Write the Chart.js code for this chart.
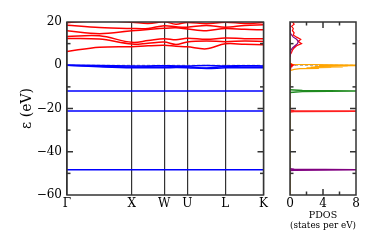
<!DOCTYPE html>
<html>
<head>
<meta charset="utf-8">
<script src="https://cdn.jsdelivr.net/npm/chart.js@4"></script>
<style>
  body { margin: 0; background: #fff; }
  #wrap { position: relative; width: 377px; height: 251px; }
  canvas { position: absolute; top: 0; }
  #bands { left: 0; }
  #pdos { left: 270px; }
</style>
</head>
<body>
<div id="wrap">
  <canvas id="bands" width="270" height="251"></canvas>
  <canvas id="pdos" width="107" height="251"></canvas>
</div>
<script>
// k-path labels and where they sit along the path
const kLabels = ['Γ', 'X', 'W', 'U', 'L', 'K'];
const kTicks = [0, 1, 1.5, 1.854, 2.44, 3.03];
// sample points along the path where the bands were read
const kPath = [0, 0.5, 1, 1.25, 1.5, 1.68, 1.854, 2.15, 2.44, 2.74, 3.03];

// conduction bands (eV)
const cond1 = [6.4, 8.3, 8.6, 9.0, 9.2, 8.8, 8.5, 7.6, 9.9, 9.7, 9.5];
const cond2 = [12.4, 12.1, 9.8, 10.2, 10.7, 9.6, 10.8, 11.2, 10.9, 11.2, 11.0];
const cond3 = [13.3, 13.6, 10.6, 11.4, 12.3, 11.8, 12.5, 12.0, 12.6, 12.3, 12.3];
const cond4 = [15.9, 14.6, 15.9, 16.5, 17.1, 17.3, 16.8, 16.0, 17.0, 16.6, 16.4];
const cond5 = [18.5, 17.4, 17.0, 17.0, 18.3, 17.8, 17.6, 18.4, 17.6, 18.4, 18.7];
const cond6 = [19.7, 20.6, 19.9, 19.3, 20.2, 19.0, 19.8, 19.2, 19.9, 19.3, 19.8];
const cond7 = [21.0, 21.5, 20.4, 20.5, 21.0, 20.8, 20.7, 20.8, 20.5, 20.9, 20.6];

// valence bands (eV)
const val1 = [0, -0.1, -0.3, -0.3, -0.2, -0.3, -0.3, -0.1, -0.3, -0.2, -0.3];
const val2 = [0, -0.4, -0.8, -0.7, -0.8, -0.6, -0.7, -1.3, -0.6, -0.8, -0.8];
const val3 = [0, -0.7, -1.2, -1.1, -1.2, -1.0, -1.1, -1.5, -1.2, -1.2, -1.1];
const val4 = [-11.9, -11.9, -11.9, -11.9, -11.9, -11.9, -11.9, -11.9, -11.9, -11.9, -11.9];
const val5 = [-21.2, -21.2, -21.2, -21.2, -21.2, -21.2, -21.2, -21.2, -21.2, -21.2, -21.2];
const val6 = [-48.3, -48.3, -48.3, -48.3, -48.3, -48.3, -48.3, -48.3, -48.3, -48.3, -48.3];

// PDOS, upper region
const upE = [21, 20, 19, 18, 17, 16, 15, 14, 13, 12, 11, 10, 9, 8, 7, 6, 5, 4];
const upRed = [0.4, 0.3, 0.5, 0.2, 0.4, 0.3, 0.5, 0.4, 0.8, 1.3, 1.0, 1.4, 0.8, 0.5, 0.3, 0.2, 0.05, 0];
const upPurple = [0, 0, 0, 0, 0, 0.05, 0.1, 0.2, 0.4, 0.8, 1.0, 0.9, 0.6, 0.3, 0.1, 0, 0, 0];
// PDOS near the Fermi level
const vbE = [1.0, 0.4, 0.1, 0, -0.15, -0.3, -0.45, -0.6, -0.75, -0.9, -1.05, -1.2, -1.4, -1.6, -1.9, -2.5];
const vbOrange = [0, 0.3, 8.5, 4.0, 8.2, 3.5, 7.0, 3.0, 6.4, 2.5, 5.0, 2.0, 3.5, 1.2, 0.5, 0];
const vbRed = [0, 0.1, 0.4, 0.2, 0.3, 0.2, 0.2, 0.1, 0.2, 0.1, 0.1, 0.1, 0.05, 0, 0, 0];
// PDOS semicore peaks
const greenE = [-11.3, -11.7, -11.9, -12.1, -12.6];
const greenD = [0, 1.5, 9.5, 1.5, 0];
const redE = [-20.8, -21.0, -21.2, -21.4, -21.6];
const redD = [0, 0.5, 9.5, 0.5, 0];
const purpleE = [-47.9, -48.1, -48.3, -48.5, -48.7];
const purpleD = [0, 0.5, 9.5, 0.5, 0];

const pairs = (xs, ys) => xs.map((x, i) => ({ x: x, y: ys[i] }));

Chart.defaults.font.family = 'DejaVu Serif';
Chart.defaults.color = '#000';

// frame + inward tick marks
const framePlugin = {
  id: 'frame',
  afterDatasetsDraw(chart, args, opts) {
    const ctx = chart.ctx;
    const a = chart.chartArea;
    const sx = chart.scales.x, sy = chart.scales.y;
    ctx.save();
    ctx.strokeStyle = '#333';
    ctx.lineWidth = 1.5;
    const seg = (x1, y1, x2, y2) => { ctx.beginPath(); ctx.moveTo(x1, y1); ctx.lineTo(x2, y2); ctx.stroke(); };
    (opts.yTicks || []).forEach(v => {
      const y = sy.getPixelForValue(v);
      const len = v % 20 === 0 ? 6 : 3.5;
      seg(a.left, y, a.left + len, y);
      seg(a.right, y, a.right - len, y);
    });
    (opts.xTicks || []).forEach(v => {
      const x = sx.getPixelForValue(v);
      const len = v % 4 === 0 ? 6 : 3.5;
      seg(x, a.top, x, a.top + len);
      seg(x, a.bottom, x, a.bottom - len);
    });
    ctx.strokeRect(a.left, a.top, a.right - a.left, a.bottom - a.top);
    ctx.restore();
  }
};

const line = (data, color, width, extra) => Object.assign({
  data: data, borderColor: color, borderWidth: width, showLine: true,
  pointRadius: 0, fill: false
}, extra || {});

const condColor = '#ff0000', valColor = '#0000ff';
const bandSets = [cond1, cond2, cond3, cond4, cond5, cond6, cond7].map(b => line(pairs(kPath, b), condColor, 1.5, { tension: 0.35 }))
  .concat([val1, val2, val3, val4, val5, val6].map(b => line(pairs(kPath, b), valColor, 1.5, { tension: 0.35 })))
  .concat([line([{ x: kTicks[0], y: 0 }, { x: kTicks[kTicks.length - 1], y: 0 }], '#999', 1, { borderDash: [3, 2] })]);

new Chart(document.getElementById('bands'), {
  type: 'scatter',
  data: { datasets: bandSets },
  options: {
    responsive: false,
    animation: false,
    layout: { padding: { top: 22, right: 6, left: 0, bottom: 0 } },
    plugins: { legend: { display: false }, tooltip: { enabled: false },
      frame: { yTicks: [-50, -40, -30, -20, -10, 10] } },
    scales: {
      x: {
        type: 'linear', min: kTicks[0], max: kTicks[kTicks.length - 1],
        afterBuildTicks: s => { s.ticks = kTicks.map(v => ({ value: v })); },
        afterFit: s => { s.height = 56; },
        ticks: { callback: (v, i) => kLabels[i], font: { size: 12 }, padding: 2, maxRotation: 0, autoSkip: false },
        grid: { color: '#333', lineWidth: 1.2, drawTicks: false },
        border: { display: false }
      },
      y: {
        min: -60, max: 20,
        afterFit: s => { s.width = 67; },
        ticks: { stepSize: 20, font: { size: 12 }, padding: 5, callback: v => String(v).replace('-', '\u2212') },
        grid: { display: false, drawTicks: false },
        border: { display: false },
        title: { display: true, text: 'ε (eV)', font: { size: 14 }, padding: { top: 19, bottom: 0 } }
      }
    }
  },
  plugins: [framePlugin]
});

const pdosSets = [
  line(pairs(greenD, greenE), '#1f8a1f', 1.5),
  line(pairs(redD, redE), '#ff2020', 1.5),
  line(pairs(purpleD, purpleE), '#800080', 1.5),
  line(pairs(upPurple, upE), '#800080', 1.2),
  line(pairs(upRed, upE), '#ff0000', 1.2),
  line(pairs(vbRed, vbE), '#ff0000', 1.2),
  line(pairs(vbOrange, vbE), '#ffa500', 1.2),
  line([{ x: 0, y: -60 }, { x: 0, y: 20 }], '#8b6508', 1.5),
  line([{ x: 0, y: 0 }, { x: 8, y: 0 }], '#999', 1, { borderDash: [3, 2] })
];

new Chart(document.getElementById('pdos'), {
  type: 'scatter',
  data: { datasets: pdosSets },
  options: {
    responsive: false,
    animation: false,
    layout: { padding: { top: 22, right: 21, left: 20, bottom: 0 } },
    plugins: { legend: { display: false }, tooltip: { enabled: false },
      frame: { yTicks: [-50, -40, -30, -20, -10, 10], xTicks: [2, 4, 6] } },
    scales: {
      x: {
        type: 'linear', min: 0, max: 8,
        afterFit: s => { s.height = 56; },
        ticks: { stepSize: 4, font: { size: 12 }, padding: 2, maxRotation: 0 },
        grid: { display: false, drawTicks: false },
        border: { display: false },
        title: { display: true, text: ['PDOS', '(states per eV)'], font: { size: 9.5, lineHeight: 1.1 }, padding: { top: 0, bottom: 20 } }
      },
      y: { min: -60, max: 20, display: false }
    }
  },
  plugins: [framePlugin]
});
</script>
</body>
</html>
